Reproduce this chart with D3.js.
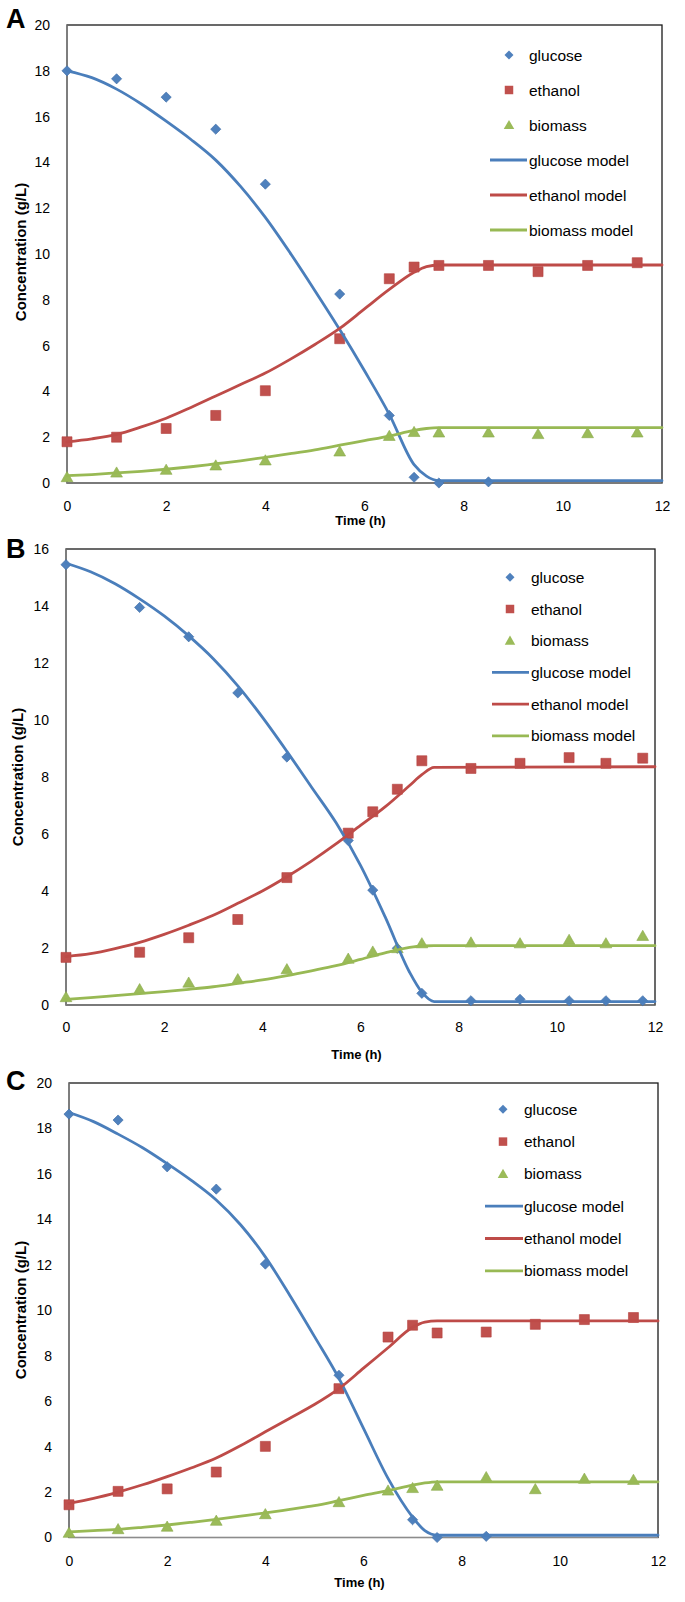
<!DOCTYPE html>
<html><head><meta charset="utf-8">
<script src="https://cdn.jsdelivr.net/npm/d3@7"></script>
<style>
html,body{margin:0;padding:0;background:#fff;}
svg{display:block;}
text{font-family:"Liberation Sans",Arial,sans-serif;fill:#000;}
</style></head><body>
<svg id="c" width="685" height="1602"></svg>
<script>
// ---------- DATA ----------
const seriesNames = ["glucose","ethanol","biomass","glucose model","ethanol model","biomass model"];
const xTicks = [0,2,4,6,8,10,12];
const yTicksAC = [0,2,4,6,8,10,12,14,16,18,20];
const yTicksB = [0,2,4,6,8,10,12,14,16];

// Panel A
const aGlucoseT = [0,1,2,3,4,5.5,6.5,7,7.5,8.5];
const aGlucose  = [18.0,17.65,16.85,15.45,13.05,8.25,2.95,0.25,0.0,0.05];
const aOtherT   = [0,1,2,3,4,5.5,6.5,7,7.5,8.5,9.5,10.5,11.5];
const aEthanol  = [1.8,2.0,2.38,2.95,4.03,6.3,8.92,9.43,9.5,9.5,9.23,9.5,9.62];
const aBiomass  = [0.25,0.45,0.57,0.76,0.98,1.37,2.05,2.22,2.2,2.2,2.13,2.17,2.2];
const aModelT   = [0,0.5,1,1.5,2,2.5,3,3.5,4,4.5,5,5.5,6,6.5,7,7.25,7.5,12];
const aGlucoseModel = [18.0,17.7,17.2,16.55,15.8,15.0,14.1,12.95,11.6,10.05,8.4,6.7,4.9,3.0,0.8,0.3,0.1,0.1];
const aEthanolModel = [1.8,1.93,2.12,2.45,2.83,3.3,3.8,4.3,4.8,5.4,6.05,6.75,7.6,8.45,9.2,9.45,9.52,9.52];
const aBiomassModel = [0.32,0.37,0.44,0.51,0.6,0.71,0.84,0.97,1.12,1.28,1.45,1.65,1.85,2.05,2.3,2.38,2.42,2.42];

// Panel B
const bT        = [0,1.5,2.5,3.5,4.5,5.75,6.25,6.75,7.25,8.25,9.25,10.25,11,11.75];
const bGlucose  = [15.45,13.95,12.92,10.95,8.7,5.77,4.03,1.99,0.41,0.15,0.2,0.15,0.15,0.15];
const bEthanol  = [1.67,1.85,2.36,3.0,4.47,6.03,6.78,7.57,8.57,8.3,8.48,8.68,8.48,8.66];
const bBiomass  = [0.27,0.55,0.78,0.9,1.25,1.62,1.87,1.99,2.16,2.19,2.16,2.28,2.16,2.42];
const bModelT   = [0,0.5,1,1.5,2,2.5,3,3.5,4,4.5,5,5.5,6,6.5,7,7.25,7.5,12];
const bGlucoseModel = [15.5,15.2,14.78,14.25,13.65,12.95,12.15,11.2,10.1,8.9,7.65,6.4,4.9,3.1,1.15,0.45,0.12,0.12];
const bEthanolModel = [1.7,1.8,1.98,2.2,2.48,2.8,3.15,3.57,4.0,4.5,5.05,5.65,6.3,6.95,7.7,8.08,8.34,8.36];
const bBiomassModel = [0.2,0.26,0.33,0.4,0.47,0.55,0.64,0.76,0.88,1.03,1.2,1.38,1.6,1.83,2.02,2.07,2.08,2.08];

// Panel C
const cGlucoseT = [0,1,2,3,4,5.5,7,7.5,8.5];
const cGlucose  = [18.63,18.37,16.31,15.33,12.03,7.14,0.78,0.0,0.05];
const cOtherT   = [0,1,2,3,4,5.5,6.5,7,7.5,8.5,9.5,10.5,11.5];
const cEthanol  = [1.44,2.03,2.14,2.88,4.01,6.55,8.82,9.34,9.0,9.04,9.38,9.59,9.68];
const cBiomass  = [0.2,0.36,0.47,0.73,1.02,1.55,2.06,2.17,2.27,2.65,2.12,2.58,2.53];
const cModelT   = [0,0.5,1,1.5,2,2.5,3,3.5,4,4.5,5,5.5,6,6.5,7,7.25,7.5,12];
const cGlucoseModel = [18.7,18.3,17.75,17.15,16.45,15.7,14.85,13.75,12.35,10.65,8.85,7.0,4.8,2.6,0.9,0.3,0.1,0.1];
const cEthanolModel = [1.5,1.72,2.0,2.32,2.68,3.07,3.5,4.05,4.65,5.25,5.85,6.55,7.45,8.35,9.25,9.48,9.53,9.53];
const cBiomassModel = [0.25,0.3,0.36,0.45,0.55,0.67,0.8,0.94,1.08,1.24,1.4,1.62,1.85,2.06,2.3,2.4,2.45,2.45];

// ---------- STYLE ----------
const col = {glucose:"#4F81BD", ethanol:"#C0504D", biomass:"#9BBB59",
             glucoseL:"#4A7EBB", ethanolL:"#BE4B48", biomassL:"#98B954"};

const panels = [
  {label:"A", left:67, right:662, top:25, bottom:483, yMax:20, yTicks:yTicksAC,
   labelY:28, xTickPad:18, xTitleY:525, yTitleX:20.5, yTitleY:252,
   leg:{mx:509, y0:55, dy:35, lx0:490, lx1:527, tx:529},
   glucose:[aGlucoseT,aGlucose], ethanol:[aOtherT,aEthanol], biomass:[aOtherT,aBiomass],
   models:[aModelT,aGlucoseModel,aEthanolModel,aBiomassModel]},
  {label:"B", left:66, right:655, top:549, bottom:1005, yMax:16, yTicks:yTicksB,
   labelY:558, xTickPad:17, xTitleY:1059, yTitleX:17.5, yTitleY:777,
   leg:{mx:510, y0:577.3, dy:31.7, lx0:492, lx1:529, tx:531},
   glucose:[bT,bGlucose], ethanol:[bT,bEthanol], biomass:[bT,bBiomass],
   models:[bModelT,bGlucoseModel,bEthanolModel,bBiomassModel]},
  {label:"C", left:69, right:658, top:1083, bottom:1537.5, yMax:20, yTicks:yTicksAC,
   labelY:1090, xTickPad:19, xTitleY:1587, yTitleX:20.5, yTitleY:1310,
   leg:{mx:503, y0:1109.3, dy:32.3, lx0:485, lx1:523, tx:524},
   glucose:[cGlucoseT,cGlucose], ethanol:[cOtherT,cEthanol], biomass:[cOtherT,cBiomass],
   models:[cModelT,cGlucoseModel,cEthanolModel,cBiomassModel]}
];

const svg = d3.select("#c");
const diamond = d3.symbol().type(d3.symbolSquare).size(52)();
const square = d3.symbol().type(d3.symbolSquare).size(100)();
const tri = d3.symbol().type(d3.symbolTriangle).size(60)();
const diamondL = d3.symbol().type(d3.symbolSquare).size(40)();
const squareL = d3.symbol().type(d3.symbolSquare).size(72)();
const triL = d3.symbol().type(d3.symbolTriangle).size(48)();

panels.forEach(p => {
  const g = svg.append("g");
  const x = d3.scaleLinear().domain([0,12]).range([p.left,p.right]);
  const y = d3.scaleLinear().domain([0,p.yMax]).range([p.bottom,p.top]);

  // plot area border (top/right dark)
  g.append("rect").attr("x",p.left).attr("y",p.top)
    .attr("width",p.right-p.left).attr("height",p.bottom-p.top)
    .attr("fill","none").attr("stroke","#1a1a1a").attr("stroke-width",1.3);
  // axis lines gray
  g.append("line").attr("x1",p.left).attr("x2",p.left).attr("y1",p.top).attr("y2",p.bottom)
    .attr("stroke","#8c8c8c").attr("stroke-width",1.2);
  g.append("line").attr("x1",p.left).attr("x2",p.right).attr("y1",p.bottom).attr("y2",p.bottom)
    .attr("stroke","#8c8c8c").attr("stroke-width",1.2);

  // axes
  const ya = g.append("g").attr("transform",`translate(${p.left},0)`)
    .call(d3.axisLeft(y).tickValues(p.yTicks).tickSize(0).tickPadding(17).tickFormat(d3.format("d")));
  ya.select(".domain").remove();
  ya.selectAll("text").attr("font-size",14).attr("font-family","Liberation Sans, Arial, sans-serif").attr("fill","#222");
  const xa = g.append("g").attr("transform",`translate(0,${p.bottom})`)
    .call(d3.axisBottom(x).tickValues(xTicks).tickSize(0).tickPadding(p.xTickPad).tickFormat(d3.format("d")));
  xa.select(".domain").remove();
  xa.selectAll("text").attr("font-size",14).attr("font-family","Liberation Sans, Arial, sans-serif").attr("fill","#222");

  // titles
  g.append("text").attr("x",(p.left+p.right)/2 - 4).attr("y",p.xTitleY)
    .attr("text-anchor","middle").attr("font-weight","bold").attr("font-size",13).text("Time (h)");
  g.append("text").attr("transform",`translate(${p.yTitleX},${p.yTitleY}) rotate(-90)`)
    .attr("text-anchor","middle").attr("dominant-baseline","central")
    .attr("font-weight","bold").attr("font-size",15).text("Concentration (g/L)");
  g.append("text").attr("x",6).attr("y",p.labelY).attr("font-weight","bold")
    .attr("font-size",27).text(p.label);

  // markers
  const pts = (arr) => arr[0].map((t,i)=>({t, v:arr[1][i]}));
  g.append("g").selectAll("path").data(pts(p.glucose)).join("path")
    .attr("d",diamond).attr("fill",col.glucose).attr("stroke","#3f6ea6").attr("stroke-width",0.6)
    .attr("transform",d=>`translate(${x(d.t)},${y(d.v)}) rotate(45)`);
  g.append("g").selectAll("path").data(pts(p.ethanol)).join("path")
    .attr("d",square).attr("fill",col.ethanol).attr("stroke","#b4403d").attr("stroke-width",0.6)
    .attr("transform",d=>`translate(${x(d.t)},${y(d.v)})`);
  g.append("g").selectAll("path").data(pts(p.biomass)).join("path")
    .attr("d",tri).attr("fill",col.biomass).attr("stroke","#8aaa4c").attr("stroke-width",0.6)
    .attr("transform",d=>`translate(${x(d.t)},${y(d.v)+1})`);

  // model lines
  const line = d3.line().x(d=>x(d.t)).y(d=>y(d.v)).curve(d3.curveMonotoneX);
  const mt = p.models[0];
  [[p.models[1],col.glucoseL],[p.models[2],col.ethanolL],[p.models[3],col.biomassL]].forEach(([vals,c])=>{
    g.append("path").datum(mt.map((t,i)=>({t,v:vals[i]})))
      .attr("d",line).attr("fill","none").attr("stroke",c).attr("stroke-width",2.8)
      .attr("stroke-linejoin","round").attr("stroke-linecap","round");
  });

  // legend
  const L = p.leg;
  const lg = g.append("g");
  seriesNames.forEach((name,i)=>{
    const yy = L.y0 + i*L.dy;
    if (i===0) lg.append("path").attr("d",diamondL).attr("fill",col.glucose).attr("transform",`translate(${L.mx},${yy}) rotate(45)`);
    if (i===1) lg.append("path").attr("d",squareL).attr("fill",col.ethanol).attr("transform",`translate(${L.mx},${yy})`);
    if (i===2) lg.append("path").attr("d",triL).attr("fill",col.biomass).attr("transform",`translate(${L.mx},${yy+1})`);
    if (i>=3) lg.append("line").attr("x1",L.lx0).attr("x2",L.lx1).attr("y1",yy).attr("y2",yy)
      .attr("stroke",[col.glucoseL,col.ethanolL,col.biomassL][i-3]).attr("stroke-width",2.8);
    lg.append("text").attr("x",L.tx).attr("y",yy).attr("dominant-baseline","central")
      .attr("font-size",15.5).attr("fill","#222").text(name);
  });
});
</script>
</body></html>
